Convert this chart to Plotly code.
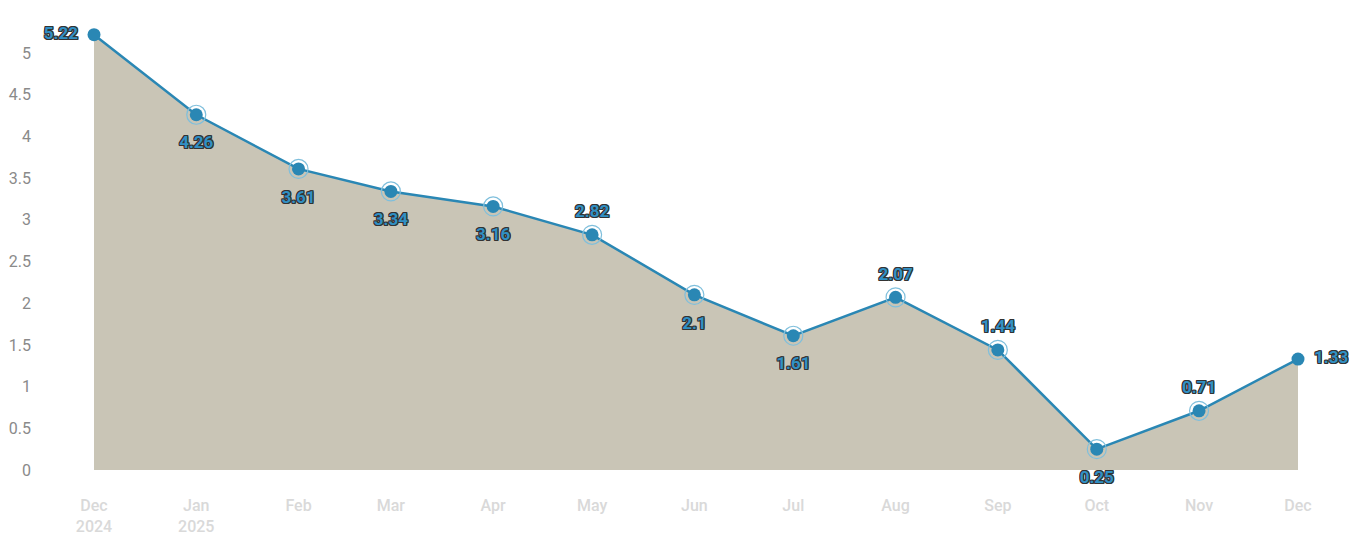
import plotly.graph_objects as go

dates = ["2024-12-01", "2025-01-01", "2025-02-01", "2025-03-01", "2025-04-01", "2025-05-01", "2025-06-01",
         "2025-07-01", "2025-08-01", "2025-09-01", "2025-10-01", "2025-11-01", "2025-12-01"]
categories = ["Dec<br>2024", "Jan<br>2025", "Feb", "Mar", "Apr", "May", "Jun", "Jul", "Aug", "Sep", "Oct", "Nov", "Dec"]
values = [5.22, 4.26, 3.61, 3.34, 3.16, 2.82, 2.1, 1.61, 2.07, 1.44, 0.25, 0.71, 1.33]
labels = ["5.22", "4.26", "3.61", "3.34", "3.16", "2.82", "2.1", "1.61", "2.07", "1.44", "0.25", "0.71", "1.33"]
label_pos = ["middle left", "bottom center", "bottom center", "bottom center", "bottom center", "top center",
             "bottom center", "bottom center", "top center", "top center", "bottom center", "top center", "middle right"]
y_ticks = [0, 0.5, 1, 1.5, 2, 2.5, 3, 3.5, 4, 4.5, 5]

line_color = "#2a87b4"
outline = "#333333"
shadow = ", ".join(f"{dx}px {dy}px 0 {outline}" for dx, dy in
                   [(1, 0), (-1, 0), (0, 1), (0, -1), (1, 1), (-1, -1), (1, -1), (-1, 1)])
pad_size = {"middle left": 24, "middle right": 24, "top center": 20, "bottom center": 32}
text_marker_sizes = [pad_size[p] for p in label_pos]

fig = go.Figure()
fig.add_trace(go.Scatter(
    x=dates, y=values, mode="lines", fill="tozeroy", fillcolor="#c9c5b6",
    line=dict(color=line_color, width=2.5), hoverinfo="skip", showlegend=False))
fig.add_trace(go.Scatter(
    x=dates[1:-1], y=values[1:-1], mode="markers",
    marker=dict(size=19, color="rgba(0,0,0,0)", line=dict(color="#7fbfdc", width=1.2)),
    hoverinfo="skip", showlegend=False, cliponaxis=False))
fig.add_trace(go.Scatter(
    x=dates, y=values, mode="markers",
    marker=dict(size=13, color=line_color, line=dict(width=0)), hoverinfo="skip",
    showlegend=False, cliponaxis=False))
fig.add_trace(go.Scatter(
    x=dates, y=values, mode="markers+text", text=labels, textposition=label_pos,
    marker=dict(size=text_marker_sizes, color="rgba(0,0,0,0)", opacity=0,
                line=dict(width=0, color="rgba(0,0,0,0)")),
    textfont=dict(family="Roboto", size=17, color="#3190c4", weight="bold", shadow=shadow),
    hoverinfo="skip", showlegend=False, cliponaxis=False))

fig.update_layout(
    width=1359, height=542, margin=dict(l=40, r=20, t=20, b=72),
    plot_bgcolor="white", paper_bgcolor="white",
    font=dict(family="Roboto"), hovermode=False,
    xaxis=dict(type="date", tickvals=dates, ticktext=categories,
               range=["2024-11-14 15:00", "2025-12-13 10:20"], showgrid=False,
               zeroline=False, showline=False, ticklabelstandoff=24, automargin=False,
               tickfont=dict(size=16, color="#d9d9d9", weight=500)),
    yaxis=dict(tickvals=y_ticks, range=[0, 5.396], showgrid=False, zeroline=False, automargin=False,
               showline=False, tickfont=dict(size=16, color="#8a8a8a"), ticklabelstandoff=8),
)
fig.write_html("out.html", config={"displayModeBar": False},
               post_script="document.body.style.margin='0px';")
